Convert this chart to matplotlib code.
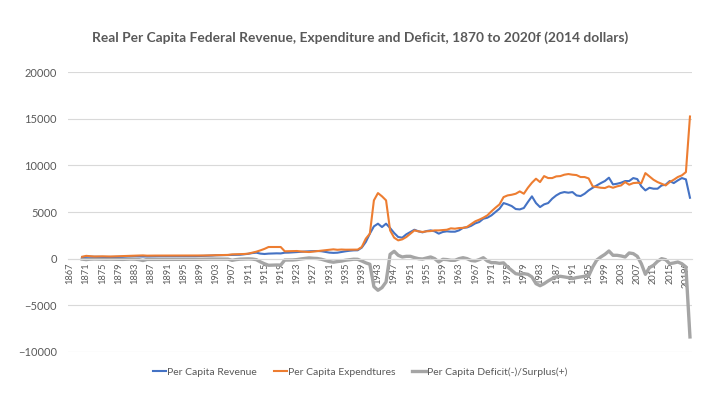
import matplotlib
matplotlib.use("Agg")

import numpy as np
import matplotlib.pyplot as plt

plt.rcParams["font.family"] = ["Lato", "DejaVu Sans"]

# Category labels: 1867 to 2020f (data itself starts in 1870)
categories = [str(y) for y in range(1867, 2019)] + ["2019f", "2020f"]
data_start = 1870

# Real per capita values, 2014 dollars, 1870 .. 2020f
revenue = [
    180, 200, 210, 200, 200, 190, 180, 180, 180, 190,          # 1870s
    200, 230, 260, 270, 240, 230, 240, 250, 250, 260,          # 1880s
    260, 260, 260, 260, 250, 250, 250, 260, 270, 290,          # 1890s
    300, 310, 330, 360, 370, 370, 380, 410, 400, 420,          # 1900s
    470, 520, 600, 640, 540, 500, 540, 560, 570, 560,          # 1910s
    640, 650, 680, 720, 740, 760, 790, 800, 820, 800,          # 1920s
    720, 650, 620, 640, 720, 790, 850, 890, 900, 1180,         # 1930s
    1790, 2680, 3460, 3750, 3390, 3750, 3280, 2750, 2320, 2250,  # 1940s
    2610, 2860, 3100, 2930, 2820, 2960, 3030, 2930, 2680, 2860,  # 1950s
    2930, 2890, 2890, 3030, 3300, 3350, 3520, 3780, 3930, 4280,  # 1960s
    4390, 4640, 5000, 5360, 5960, 5820, 5640, 5320, 5280, 5430,  # 1970s
    6070, 6680, 5960, 5530, 5820, 5960, 6430, 6780, 7030, 7140,  # 1980s
    7070, 7140, 6780, 6710, 6960, 7320, 7600, 7850, 8100, 8320,  # 1990s
    8680, 7960, 8030, 8140, 8320, 8320, 8640, 8530, 7750, 7320,  # 2000s
    7600, 7500, 7500, 7850, 7930, 8320, 8100, 8390, 8640, 8500,  # 2010s
    6530,                                                        # 2020f
]

expenditures = [
    200, 300, 260, 230, 240, 250, 240, 230, 240, 260,
    280, 290, 300, 320, 340, 350, 320, 330, 330, 330,
    330, 330, 330, 330, 330, 330, 330, 330, 330, 330,
    340, 350, 360, 370, 370, 380, 400, 460, 470, 470,
    500, 540, 640, 750, 890, 1050, 1250, 1250, 1250, 1250,
    790, 800, 820, 820, 770, 740, 710, 760, 800, 860,
    900, 960, 1000, 950, 980, 960, 960, 950, 970, 1250,
    2140, 2680, 6250, 7030, 6680, 6250, 3030, 2250, 1960, 2070,
    2320, 2680, 3030, 2930, 2860, 2930, 2960, 3030, 3030, 3070,
    3100, 3250, 3210, 3280, 3300, 3410, 3700, 4000, 4180, 4390,
    4640, 5070, 5460, 5820, 6600, 6780, 6850, 6960, 7210, 6960,
    7600, 8140, 8570, 8210, 8850, 8640, 8640, 8820, 8850, 9000,
    9070, 9000, 8960, 8750, 8750, 8600, 7750, 7680, 7600, 7570,
    7750, 7600, 7750, 7850, 8210, 7930, 8100, 8140, 8100, 9170,
    8820, 8460, 8210, 8030, 7850, 8210, 8460, 8750, 8930, 9280,
    15240,
]

deficit = [
    -50, -100, -50, -30, -40, -60, -60, -50, -60, -70,
    -80, -60, -40, -50, -100, -200, -80, -80, -80, -70,
    -70, -70, -70, -70, -70, -70, -70, -70, -70, -60,
    -50, -40, -40, -40, -30, -40, -50, -180, -100, -50,
    -30, -20, -40, -110, -350, -550, -710, -690, -680, -690,
    -150, -150, -140, -100, -30, 20, 80, 40, 20, -60,
    -180, -310, -380, -310, -260, -170, -110, -60, -70, -250,
    -450, -600, -3000, -3390, -3100, -2500, 460, 790, 360, 180,
    250, 250, 110, 0, -40, 70, 180, 0, -360, -70,
    -100, -180, -180, 0, 100, 0, -200, -250, -100, 100,
    -250, -430, -430, -500, -450, -900, -1250, -1610, -1680, -1610,
    -1680, -1960, -2680, -2900, -2680, -2390, -2140, -1960, -1890, -1960,
    -2030, -2140, -2030, -1960, -1890, -1850, -900, -150, 180, 460,
    820, 360, 360, 290, 180, 610, 540, 250, -540, -1680,
    -960, -710, -290, 0, -110, -540, -460, -360, -540, -890,
    -8390,
]

pad = [np.nan] * (data_start - 1867)
x = np.arange(len(categories))

fig = plt.figure(figsize=(7.2, 4.05), dpi=100)
ax = fig.add_axes([0.0944, 0.131, 0.8667, 0.691])

# category axis sits on the zero line, like the original spreadsheet chart
for side in ["top", "right", "left"]:
    ax.spines[side].set_visible(False)
ax.spines["bottom"].set_position(("data", 0))
ax.spines["bottom"].set_color("#D9D9D9")
ax.spines["bottom"].set_linewidth(0.8)

ax.plot(x, pad + deficit, color="#A5A5A5", lw=2.4,
        label="Per Capita Deficit(-)/Surplus(+)", zorder=2)
ax.plot(x, pad + revenue, color="#4472C4", lw=1.5,
        label="Per Capita Revenue", zorder=3)
ax.plot(x, pad + expenditures, color="#ED7D31", lw=1.5,
        label="Per Capita Expendtures", zorder=4)

ax.set_xlim(-0.5, len(categories) - 0.5)
ax.set_ylim(-10000, 20000)
ax.set_yticks(range(-10000, 20001, 5000))
ax.yaxis.grid(True, color="#D9D9D9", lw=0.8)
ax.set_axisbelow(True)

ticks = x[::4]
ax.set_xticks(ticks)
ax.set_xticklabels([categories[i] for i in ticks])
ax.tick_params(axis="x", labelrotation=90, labelsize=6.7,
               labelcolor="#595959", length=0, pad=3)
ax.tick_params(axis="y", labelsize=8, labelcolor="#595959", length=0, pad=8)

fig.text(0.5, 0.908,
         "Real Per Capita Federal Revenue, Expenditure and Deficit, 1870 to 2020f (2014 dollars)",
         ha="center", va="center", fontsize=9.9, fontweight="bold", color="#595959")

handles, labels = ax.get_legend_handles_labels()
order = [1, 2, 0]
fig.legend([handles[i] for i in order], [labels[i] for i in order],
           loc="center", bbox_to_anchor=(0.5, 0.081), ncol=3, frameon=False,
           fontsize=7.5, labelcolor="#595959", handlelength=1.3,
           handletextpad=0.1, columnspacing=1.6)

fig.savefig("out.png", dpi=100)
plt.close(fig)
